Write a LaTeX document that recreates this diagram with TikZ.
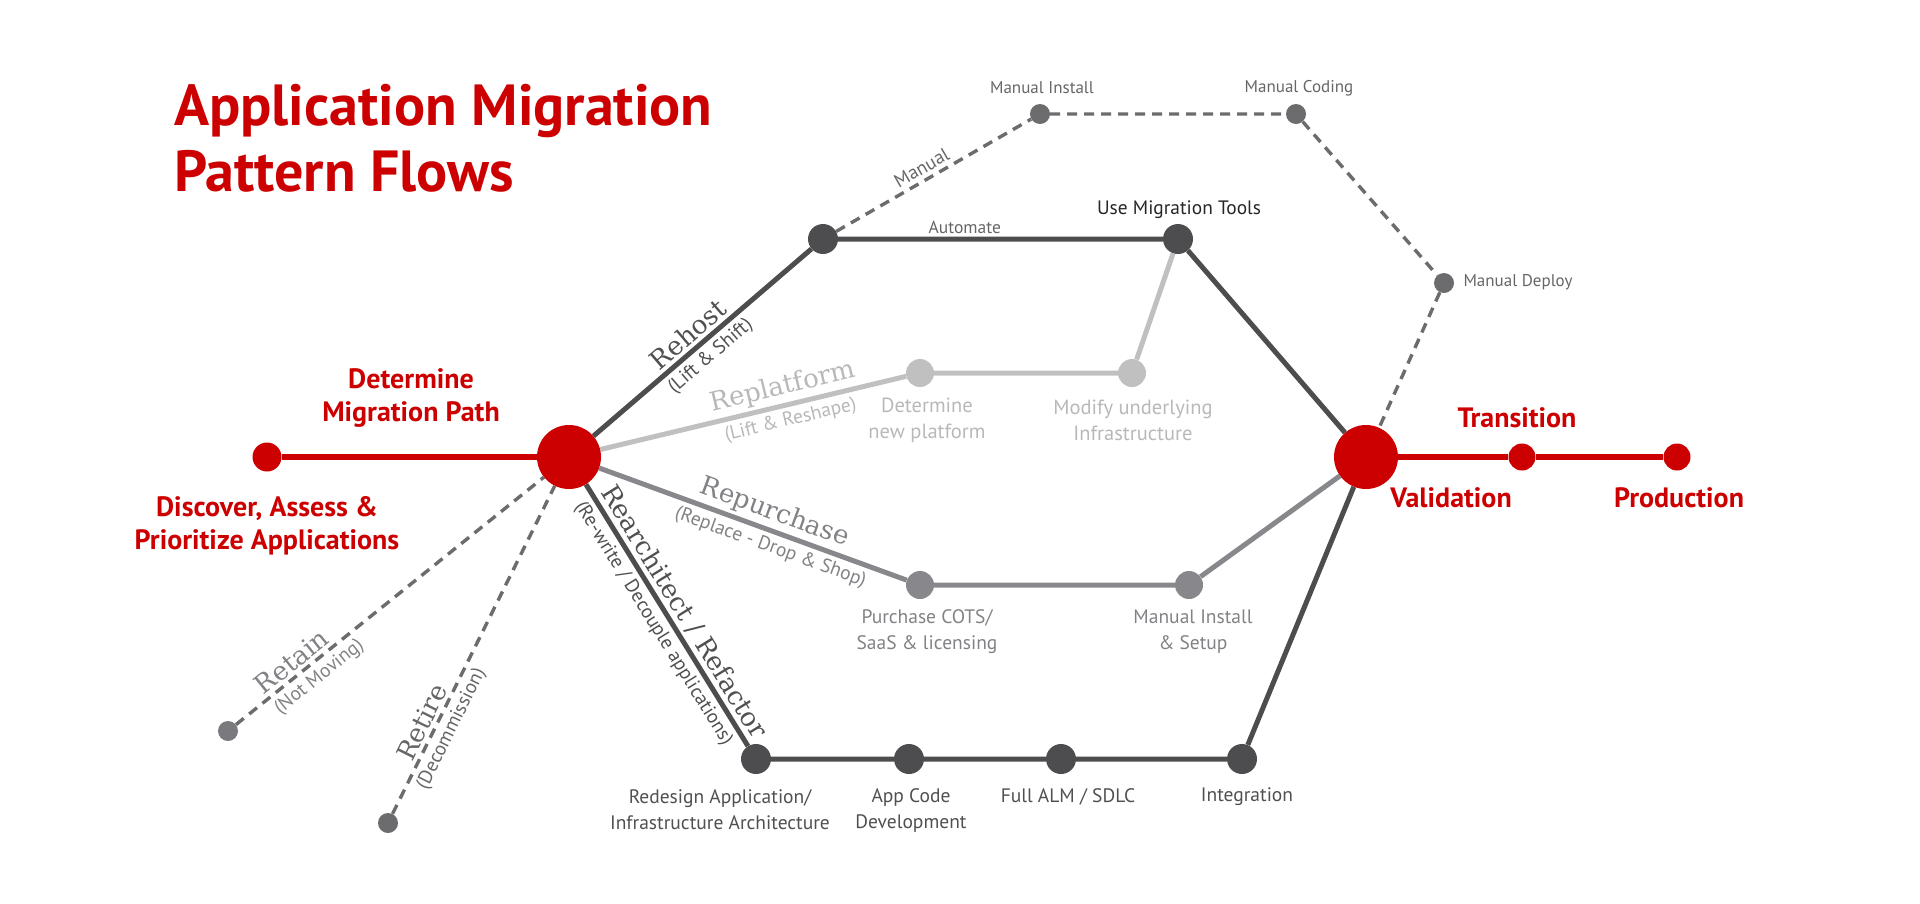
\documentclass[tikz,border=0pt]{standalone}
\usepackage{fontspec}
\setmainfont{PT Sans}
\newfontfamily\slab{DejaVu Serif}
\usetikzlibrary{backgrounds}
\definecolor{mred}{RGB}{204,0,0}
\definecolor{cdark}{RGB}{77,77,79}
\definecolor{cmid}{RGB}{136,136,140}
\definecolor{clight}{RGB}{192,192,192}
\definecolor{cdash}{RGB}{108,108,110}
\definecolor{tdark}{RGB}{80,80,82}
\definecolor{tgray}{RGB}{102,102,104}
\definecolor{tlight}{RGB}{184,184,184}
\definecolor{tmid}{RGB}{130,130,134}
\tikzset{
  pdot/.style={circle, inner sep=0pt, minimum size=#1},
  hubnode/.style={pdot=64pt, fill=mred},
  rednode/.style={pdot=27pt, fill=mred},
  darknode/.style={pdot=30pt, fill=cdark},
  lightnode/.style={pdot=28pt, fill=clight},
  midnode/.style={pdot=28pt, fill=cmid},
  dashnode/.style={pdot=20pt, fill=cdash},
  redline/.style={draw=mred, line width=5.5pt},
  darkline/.style={draw=cdark, line width=5pt},
  lightline/.style={draw=clight, line width=5pt},
  midline/.style={draw=cmid, line width=5pt},
  dashline/.style={draw=cdash, line width=3.4pt, dash pattern=on 10pt off 7pt},
  redlabel/.style={text=mred, font=\fontsize{28}{33}\selectfont\bfseries, align=center},
  graylabel/.style={font=\fontsize{17}{21}\selectfont, text=tgray, align=center},
  botlabel/.style={font=\fontsize{19.5}{26}\selectfont, align=center},
  pathlabel/.style={sloped, font=\fontsize{26}{30}\slab\selectfont, inner sep=3pt},
  sublabel/.style={sloped, font=\fontsize{19.5}{22}\selectfont, inner sep=4.5pt},
  linelabel/.style={sloped, above, inner sep=4pt, text=tgray}
}
\begin{document}
\begin{tikzpicture}[x=1pt,y=-1pt]
\useasboundingbox (0,0) rectangle (1920,903);

% title
\node[anchor=north west, text=mred, align=left, inner sep=0pt,
  font=\fontsize{58}{66}\selectfont\bfseries] (title) at (174,84)
  {Application Migration\\Pattern Flows};

% nodes
\node[hubnode] (A) at (569,457) {};
\node[hubnode] (V) at (1366,457) {};
\node[rednode, minimum size=29pt] (disc) at (267,457) {};
\node[rednode] (trans) at (1522,457) {};
\node[rednode] (prod) at (1677,457) {};
\node[darknode] (B) at (823,239) {};
\node[darknode] (C) at (1178,239) {};
\node[dashnode] (D) at (1040,114) {};
\node[dashnode] (E) at (1296,114) {};
\node[dashnode] (F) at (1444,283) {};
\node[lightnode] (G) at (920,373) {};
\node[lightnode] (H) at (1132,373) {};
\node[midnode] (I) at (920,585) {};
\node[midnode] (J) at (1189,585) {};
\node[darknode] (K) at (756,759) {};
\node[darknode] (L) at (909,759) {};
\node[darknode] (M) at (1061,759) {};
\node[darknode] (N) at (1242,759) {};
\node[dashnode, fill=cmid!90!black] (R1) at (228,731) {};
\node[dashnode] (R2) at (388,823) {};

% connectors
\begin{scope}[on background layer]
\draw[redline] (disc) -- (A);
\draw[redline] (V) -- (trans) -- (prod);
\draw[dashline] (B) -- node[linelabel, pos=0.47, font=\fontsize{19}{22}\selectfont] {Manual} (D) -- (E) -- (F) -- (V);
\draw[darkline] (A)
  -- node[pathlabel, above, pos=0.48, text=tdark] {Rehost}
     node[sublabel, below, pos=0.49, text=tdark] {(Lift \& Shift)} (B)
  -- node[above, pos=0.39, inner sep=3pt, font=\fontsize{17.5}{20}\selectfont, text=tgray] {Automate} (C)
  -- (V);
\draw[lightline] (A)
  -- node[pathlabel, above, pos=0.61, text=tlight] {Replatform}
     node[sublabel, below, pos=0.61, text=tlight] {(Lift \& Reshape)} (G)
  -- (H) -- (C);
\draw[midline] (A)
  -- node[pathlabel, above, pos=0.55, text=tmid] {Repurchase}
     node[sublabel, below, pos=0.575, text=tmid] {(Replace - Drop \& Shop)} (I)
  -- (J) -- (V);
\draw[darkline] (A)
  -- node[pathlabel, above, pos=0.52, text=tdark] {Rearchitect / Refactor}
     node[sublabel, below, pos=0.50, text=tdark] {(Re-write / Decouple applications)} (K)
  -- (L) -- (M) -- (N) -- (V);
\draw[dashline] (R1)
  -- node[pathlabel, above, pos=0.21, text=tmid] {Retain}
     node[sublabel, below, pos=0.24, text=tmid] {(Not Moving)} (A);
\draw[dashline] (R2)
  -- node[pathlabel, above, pos=0.26, text=tgray] {Retire}
     node[sublabel, below, pos=0.28, text=tgray] {(Decommission)} (A);
\end{scope}

% red labels
\node[redlabel] (lmig) at (411,398) {Determine\\Migration Path};
\node[redlabel] (ldisc) at (267,526) {Discover, Assess \&\\Prioritize Applications};
\node[redlabel] (ltrans) at (1517,418) {Transition};
\node[redlabel] (lval) at (1451,498) {Validation};
\node[redlabel] (lprod) at (1679,498) {Production};

% gray labels
\node[graylabel] (lD) at (1042,88) {Manual Install};
\node[graylabel] (lE) at (1299,88) {Manual Coding};
\node[graylabel, anchor=west] (lF) at (1460,282) {Manual Deploy};
\node[graylabel, text=black!85, font=\fontsize{19.4}{22}\selectfont] (lC) at (1179,210) {Use Migration Tools};
\node[botlabel, text=tlight, font=\fontsize{20.5}{26}\selectfont] (lG) at (927,420) {Determine\\new platform};
\node[botlabel, text=tlight, font=\fontsize{20.5}{26}\selectfont] (lH) at (1133,420) {Modify underlying\\Infrastructure};
\node[botlabel, text=tmid] (lI) at (927,632) {Purchase COTS/\\SaaS \& licensing};
\node[botlabel, text=tmid] (lJ) at (1193,632) {Manual Install\\\& Setup};
\node[botlabel, text=tdark] (lK) at (720,810) {Redesign Application/\\Infrastructure Architecture};
\node[botlabel, text=tdark] (lL) at (911,810) {App Code\\Development};
\node[botlabel, text=tdark] (lM) at (1068,797) {Full ALM / SDLC};
\node[botlabel, text=tdark] (lN) at (1247,797) {Integration};
\end{tikzpicture}
\end{document}
